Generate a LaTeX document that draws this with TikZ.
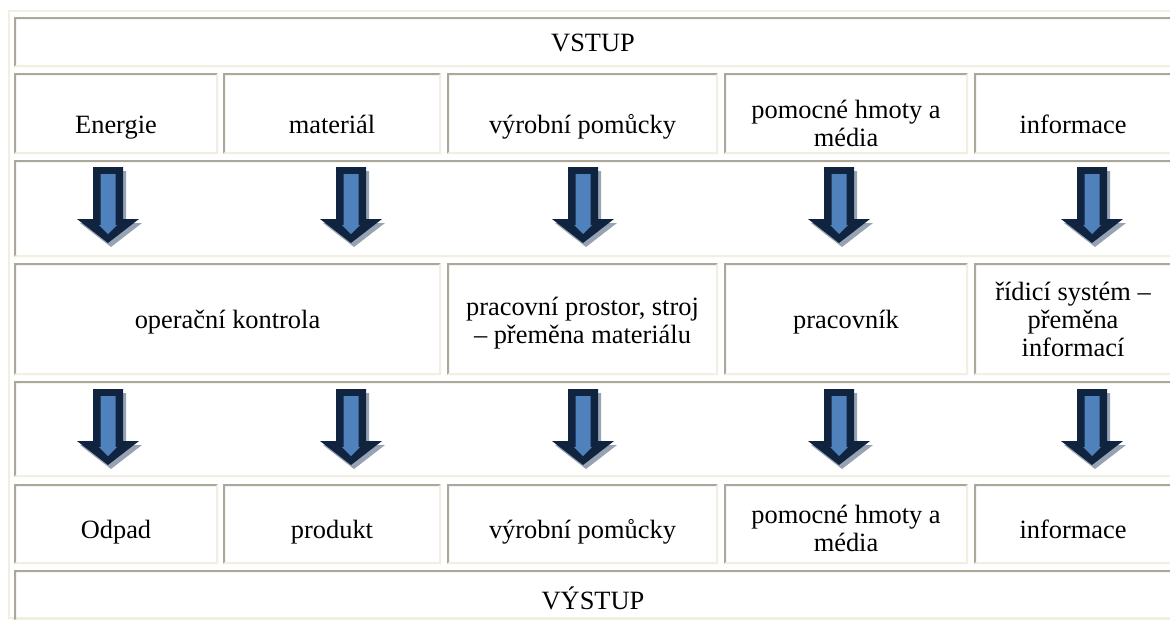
\documentclass[tikz,border=0pt]{standalone}
\usepackage{fontspec}
\setmainfont{Liberation Serif}
\definecolor{bdark}{HTML}{ACA899}
\definecolor{blight}{HTML}{F1EFE2}
\definecolor{arrnavy}{HTML}{10243F}
\definecolor{arrblue}{HTML}{4F81BD}
\definecolor{arrshadow}{HTML}{97A3B3}

% inset table cell: left x, top y, right x, bottom y
\newcommand\tabcell[4]{%
  \fill[bdark] (#1,#2) -- (#3,#2) -- (#3-2,#2+2) -- (#1+2,#2+2) -- (#1+2,#4-2) -- (#1,#4) -- cycle;
  \fill[blight] (#1,#4) -- (#1+2,#4-2) -- (#3-2,#4-2) -- (#3-2,#2+2) -- (#3,#2) -- (#3,#4) -- cycle;
}

\tikzset{
  lbl/.style={font=\fontsize{26.4}{28}\selectfont, align=center, inner sep=0pt,
    text=black, execute at begin node={\strut}},
  downarr/.pic={
    \fill[arrshadow] (-12,4) -- (18,4) -- (18,56) -- (34,56) -- (3,80) -- (-28,56) -- (-12,56) -- cycle;
    \fill[arrnavy] (-15,0) -- (15,0) -- (15,52) -- (31,52) -- (0,76) -- (-31,52) -- (-15,52) -- cycle;
    \fill[arrblue] (-7.5,7) -- (7.5,7) -- (7.5,58) -- (9,58) -- (0,67) -- (-9,58) -- (-7.5,58) -- cycle;
  }
}

\begin{document}
\begin{tikzpicture}[x=1pt,y=-1pt]
\useasboundingbox (0,0) rectangle (1170,619);
\fill[white] (0,0) rectangle (1170,619);
\clip (0,0) rectangle (1170,619);

% outer table frame
\fill[blight] (8,10) rectangle (1172,12);
\fill[blight] (8,10) rectangle (10,619);
\fill[blight] (8,617) rectangle (1172,619);

% row 1
\tabcell{14}{17}{1172}{67}
% row 2
\tabcell{14}{73}{218}{154}
\tabcell{223}{73}{441}{154}
\tabcell{447}{73}{718}{154}
\tabcell{724}{73}{968}{154}
\tabcell{974}{73}{1172}{154}
% row 3 (arrows)
\tabcell{14}{160}{1172}{257}
% row 4
\tabcell{14}{263}{441}{375}
\tabcell{447}{263}{718}{375}
\tabcell{724}{263}{968}{375}
\tabcell{974}{263}{1172}{375}
% row 5 (arrows)
\tabcell{14}{381}{1172}{477}
% row 6
\tabcell{14}{484}{218}{564}
\tabcell{223}{484}{441}{564}
\tabcell{447}{484}{718}{564}
\tabcell{724}{484}{968}{564}
\tabcell{974}{484}{1172}{564}
% row 7
\tabcell{14}{570}{1172}{621}

% texts
\node[lbl] (vstup) at (593,46) {VSTUP};

\node[lbl] (energie) at (116,127.5) {Energie};
\node[lbl] (material) at (332,127.5) {materiál};
\node[lbl] (pomucky) at (582.5,127.5) {výrobní pomůcky};
\node[lbl] (hmoty) at (846,126.5) {pomocné hmoty a\strut\\média\strut};
\node[lbl] (informace) at (1073,127.5) {informace};

\node[lbl] (kontrola) at (227.5,322.5) {operační kontrola};
\node[lbl] (prostor) at (582.5,323.5) {pracovní prostor, stroj\strut\\– přeměna materiálu\strut};
\node[lbl] (pracovnik) at (846,322.5) {pracovník};
\node[lbl] (ridici) at (1073,323) {řídicí systém –\strut\\přeměna\strut\\informací\strut};

\node[lbl] (odpad) at (116,533) {Odpad};
\node[lbl] (produkt) at (332,533) {produkt};
\node[lbl] (pomuckyout) at (582.5,533) {výrobní pomůcky};
\node[lbl] (hmotyout) at (846,531.5) {pomocné hmoty a\strut\\média\strut};
\node[lbl] (informaceout) at (1073,533) {informace};

\node[lbl] (vystup) at (593,602) {VÝSTUP};

% arrows
\foreach \cx in {108,351,583,839,1092} {
  \pic at (\cx,167) {downarr};
  \pic at (\cx,389) {downarr};
}
\end{tikzpicture}
\end{document}
